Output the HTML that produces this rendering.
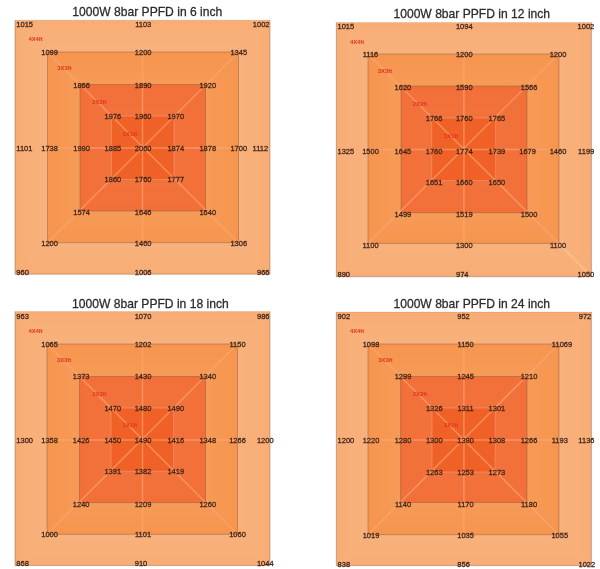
<!DOCTYPE html>
<html><head><meta charset="utf-8"><title>1000W 8bar PPFD</title>
<style>
html,body{margin:0;padding:0;background:#fff;}
svg{display:block;font-family:"Liberation Sans",Arial,sans-serif;}
.t{font-size:12.1px;fill:#2c2c30;stroke:#2c2c30;stroke-width:0.28px;text-anchor:middle;}
.n{font-size:7.5px;fill:#40251a;stroke:#40251a;stroke-width:0.27px;text-anchor:middle;}
.lb{filter:blur(0.3px);}
.s{text-anchor:start;}
.e{text-anchor:end;}
.r{font-size:5.9px;font-weight:bold;fill:#e2331f;text-anchor:middle;}
</style></head><body>
<svg width="600" height="569" viewBox="0 0 600 569">
<defs>
<linearGradient id="gT" x1="0" y1="0" x2="0" y2="1"><stop offset="0" stop-color="#fff" stop-opacity="0"/><stop offset="1" stop-color="#fff" stop-opacity="0.055"/></linearGradient>
<linearGradient id="gB" x1="0" y1="1" x2="0" y2="0"><stop offset="0" stop-color="#fff" stop-opacity="0"/><stop offset="1" stop-color="#fff" stop-opacity="0.055"/></linearGradient>
<linearGradient id="gL" x1="0" y1="0" x2="1" y2="0"><stop offset="0" stop-color="#fff" stop-opacity="0"/><stop offset="1" stop-color="#fff" stop-opacity="0.055"/></linearGradient>
<linearGradient id="gR" x1="1" y1="0" x2="0" y2="0"><stop offset="0" stop-color="#fff" stop-opacity="0"/><stop offset="1" stop-color="#fff" stop-opacity="0.055"/></linearGradient>
<linearGradient id="hT" x1="0" y1="0" x2="0" y2="1"><stop offset="0" stop-color="#fff" stop-opacity="0"/><stop offset="1" stop-color="#fff" stop-opacity="0.025"/></linearGradient>
<linearGradient id="hB" x1="0" y1="1" x2="0" y2="0"><stop offset="0" stop-color="#fff" stop-opacity="0"/><stop offset="1" stop-color="#fff" stop-opacity="0.025"/></linearGradient>
<linearGradient id="hL" x1="0" y1="0" x2="1" y2="0"><stop offset="0" stop-color="#fff" stop-opacity="0"/><stop offset="1" stop-color="#fff" stop-opacity="0.025"/></linearGradient>
<linearGradient id="hR" x1="1" y1="0" x2="0" y2="0"><stop offset="0" stop-color="#fff" stop-opacity="0"/><stop offset="1" stop-color="#fff" stop-opacity="0.025"/></linearGradient>
</defs>
<rect width="600" height="569" fill="#fff"/>
<g>
<text class="t" x="147.3" y="16.4">1000W 8bar PPFD in 6 inch</text>
<rect x="15" y="20.2" width="255" height="254" fill="#F8AD75"/>
<polygon fill="url(#gT)" points="15,20.2 270,20.2 238.5,52 47.5,52"/>
<polygon fill="url(#gB)" points="15,274.2 270,274.2 238.5,242.7 47.5,242.7"/>
<polygon fill="url(#gL)" points="15,20.2 15,274.2 47.5,242.7 47.5,52"/>
<polygon fill="url(#gR)" points="270,20.2 270,274.2 238.5,242.7 238.5,52"/>
<rect x="47.5" y="52" width="191" height="190.7" fill="#F6954E" stroke="rgba(125,88,68,0.42)" stroke-width="1"/>
<polygon fill="url(#gT)" points="47.5,52 238.5,52 205.5,84.5 80,84.5"/>
<polygon fill="url(#gB)" points="47.5,242.7 238.5,242.7 205.5,211 80,211"/>
<polygon fill="url(#gL)" points="47.5,52 47.5,242.7 80,211 80,84.5"/>
<polygon fill="url(#gR)" points="238.5,52 238.5,242.7 205.5,211 205.5,84.5"/>
<rect x="80" y="84.5" width="125.5" height="126.5" fill="#F26F38" stroke="rgba(125,88,68,0.42)" stroke-width="1"/>
<polygon fill="url(#hT)" points="80,84.5 205.5,84.5 174,116 111.5,116"/>
<polygon fill="url(#hB)" points="80,211 205.5,211 174,179.5 111.5,179.5"/>
<polygon fill="url(#hL)" points="80,84.5 80,211 111.5,179.5 111.5,116"/>
<polygon fill="url(#hR)" points="205.5,84.5 205.5,211 174,179.5 174,116"/>
<rect x="111.5" y="116" width="62.5" height="63.5" fill="#EF6126" stroke="rgba(250,170,135,0.42)" stroke-width="1.1"/>
<polyline fill="none" stroke="rgba(125,88,68,0.42)" stroke-width="1" points="15,20.2 15,274.2 270,274.2 270,20.2"/>
<line stroke="rgba(125,88,68,0.42)" stroke-opacity="0.35" stroke-width="1" x1="15" y1="20.2" x2="270" y2="20.2"/>
<g stroke="rgba(255,170,115,0.6)" stroke-width="1.5" fill="none">
<line x1="47.5" y1="52" x2="238.5" y2="242.7"/>
<line x1="238.5" y1="52" x2="47.5" y2="242.7"/>
<line x1="142.5" y1="52" x2="142.5" y2="242.7"/>
<line x1="47.5" y1="148" x2="238.5" y2="148"/>
</g>
<g class="lb">
<text class="r" x="35.6" y="41.35">4X4ft</text>
<text class="r" x="64.4" y="70.1">3X3ft</text>
<text class="r" x="99.4" y="104.1">2X2ft</text>
<text class="r" x="130" y="135.85">1X1ft</text>
<text class="n s" x="16.3" y="26.9">1015</text>
<text class="n" x="143.2" y="26.9">1103</text>
<text class="n e" x="269.5" y="26.9">1002</text>
<text class="n" x="49.6" y="55.3">1099</text>
<text class="n" x="143.2" y="55.3">1200</text>
<text class="n" x="238.8" y="55.3">1345</text>
<text class="n" x="81.6" y="87.7">1866</text>
<text class="n" x="143.2" y="87.7">1890</text>
<text class="n" x="207.8" y="87.7">1920</text>
<text class="n" x="112.9" y="119.1">1976</text>
<text class="n" x="143.2" y="119.1">1960</text>
<text class="n" x="175.8" y="119.1">1970</text>
<text class="n s" x="16.3" y="151.45">1101</text>
<text class="n" x="49.6" y="151.45">1738</text>
<text class="n" x="81.6" y="151.45">1990</text>
<text class="n" x="112.9" y="151.45">1885</text>
<text class="n" x="143.2" y="151.45">2060</text>
<text class="n" x="175.8" y="151.45">1874</text>
<text class="n" x="207.8" y="151.45">1878</text>
<text class="n" x="238.8" y="151.45">1700</text>
<text class="n e" x="268.2" y="151.45">1112</text>
<text class="n" x="112.9" y="182.3">1860</text>
<text class="n" x="143.2" y="182.3">1760</text>
<text class="n" x="175.8" y="182.3">1777</text>
<text class="n" x="81.6" y="215.2">1574</text>
<text class="n" x="143.2" y="215.2">1646</text>
<text class="n" x="207.8" y="215.2">1640</text>
<text class="n" x="49.6" y="245.8">1200</text>
<text class="n" x="143.2" y="245.8">1460</text>
<text class="n" x="238.8" y="245.8">1306</text>
<text class="n s" x="16.3" y="274.8">960</text>
<text class="n" x="143.2" y="274.8">1006</text>
<text class="n e" x="269.5" y="274.8">966</text>
</g>
</g>
<g>
<text class="t" x="471.8" y="17.5">1000W 8bar PPFD in 12 inch</text>
<rect x="336.3" y="22.5" width="255.1" height="254.2" fill="#F8AD75"/>
<polygon fill="url(#gT)" points="336.3,22.5 591.4,22.5 558.9,54 368,54"/>
<polygon fill="url(#gB)" points="336.3,276.7 591.4,276.7 558.9,243.4 368,243.4"/>
<polygon fill="url(#gL)" points="336.3,22.5 336.3,276.7 368,243.4 368,54"/>
<polygon fill="url(#gR)" points="591.4,22.5 591.4,276.7 558.9,243.4 558.9,54"/>
<rect x="368" y="54" width="190.9" height="189.4" fill="#F6954E" stroke="rgba(125,88,68,0.42)" stroke-width="1"/>
<polygon fill="url(#gT)" points="368,54 558.9,54 527,86 401,86"/>
<polygon fill="url(#gB)" points="368,243.4 558.9,243.4 527,212.7 401,212.7"/>
<polygon fill="url(#gL)" points="368,54 368,243.4 401,212.7 401,86"/>
<polygon fill="url(#gR)" points="558.9,54 558.9,243.4 527,212.7 527,86"/>
<rect x="401" y="86" width="126" height="126.7" fill="#F26F38" stroke="rgba(125,88,68,0.42)" stroke-width="1"/>
<polygon fill="url(#hT)" points="401,86 527,86 495.6,118 431.7,118"/>
<polygon fill="url(#hB)" points="401,212.7 527,212.7 495.6,180.5 431.7,180.5"/>
<polygon fill="url(#hL)" points="401,86 401,212.7 431.7,180.5 431.7,118"/>
<polygon fill="url(#hR)" points="527,86 527,212.7 495.6,180.5 495.6,118"/>
<rect x="431.7" y="118" width="63.9" height="62.5" fill="#EF6126" stroke="rgba(250,170,135,0.42)" stroke-width="1.1"/>
<polyline fill="none" stroke="rgba(125,88,68,0.42)" stroke-width="1" points="336.3,22.5 336.3,276.7 591.4,276.7 591.4,22.5"/>
<line stroke="rgba(125,88,68,0.42)" stroke-opacity="0.35" stroke-width="1" x1="336.3" y1="22.5" x2="591.4" y2="22.5"/>
<g stroke="rgba(255,170,115,0.6)" stroke-width="1.5" fill="none">
<line x1="368" y1="54" x2="558.9" y2="243.4"/>
<line x1="558.9" y1="54" x2="368" y2="243.4"/>
<line x1="463.9" y1="54" x2="463.9" y2="243.4"/>
<line x1="368" y1="149.5" x2="558.9" y2="149.5"/>
<line x1="558.9" y1="243.4" x2="591.4" y2="276.7" stroke="rgba(255,228,205,0.32)"/>
</g>
<g class="lb">
<text class="r" x="357.1" y="43.6">4X4ft</text>
<text class="r" x="385" y="72.85">3X3ft</text>
<text class="r" x="420" y="105.85">2X2ft</text>
<text class="r" x="451" y="138.35">1X1ft</text>
<text class="n s" x="337.5" y="29.45">1015</text>
<text class="n" x="464.3" y="29.45">1094</text>
<text class="n e" x="594.25" y="29.45">1002</text>
<text class="n" x="370.5" y="57.2">1116</text>
<text class="n" x="464.3" y="57.2">1200</text>
<text class="n" x="558" y="57.2">1200</text>
<text class="n" x="402.9" y="89.7">1620</text>
<text class="n" x="464.3" y="89.7">1590</text>
<text class="n" x="529.1" y="89.7">1566</text>
<text class="n" x="434.1" y="120.7">1766</text>
<text class="n" x="464.3" y="120.7">1760</text>
<text class="n" x="496.9" y="120.7">1765</text>
<text class="n s" x="337.5" y="153.7">1325</text>
<text class="n" x="370.5" y="153.7">1500</text>
<text class="n" x="402.9" y="153.7">1645</text>
<text class="n" x="434.1" y="153.7">1760</text>
<text class="n" x="464.3" y="153.7">1774</text>
<text class="n" x="496.9" y="153.7">1739</text>
<text class="n" x="527.6" y="153.7">1679</text>
<text class="n" x="558" y="153.7">1460</text>
<text class="n e" x="594.25" y="153.7">1199</text>
<text class="n" x="434.1" y="184.7">1651</text>
<text class="n" x="464.3" y="184.7">1660</text>
<text class="n" x="496.9" y="184.7">1650</text>
<text class="n" x="402.9" y="217.3">1499</text>
<text class="n" x="464.3" y="217.3">1519</text>
<text class="n" x="529.1" y="217.3">1500</text>
<text class="n" x="370.5" y="247.7">1100</text>
<text class="n" x="464.3" y="247.7">1300</text>
<text class="n" x="558" y="247.7">1100</text>
<text class="n s" x="337.5" y="276.5">890</text>
<text class="n" x="462.25" y="276.5">974</text>
<text class="n e" x="594.25" y="276.5">1050</text>
</g>
</g>
<g>
<text class="t" x="150.4" y="307.6">1000W 8bar PPFD in 18 inch</text>
<rect x="15" y="311.5" width="255" height="254" fill="#F8AD75"/>
<polygon fill="url(#gT)" points="15,311.5 270,311.5 237.5,344 47,344"/>
<polygon fill="url(#gB)" points="15,565.5 270,565.5 237.5,534.3 47,534.3"/>
<polygon fill="url(#gL)" points="15,311.5 15,565.5 47,534.3 47,344"/>
<polygon fill="url(#gR)" points="270,311.5 270,565.5 237.5,534.3 237.5,344"/>
<rect x="47" y="344" width="190.5" height="190.3" fill="#F6954E" stroke="rgba(125,88,68,0.42)" stroke-width="1"/>
<polygon fill="url(#gT)" points="47,344 237.5,344 205.5,376.5 79.5,376.5"/>
<polygon fill="url(#gB)" points="47,534.3 237.5,534.3 205.5,502.6 79.5,502.6"/>
<polygon fill="url(#gL)" points="47,344 47,534.3 79.5,502.6 79.5,376.5"/>
<polygon fill="url(#gR)" points="237.5,344 237.5,534.3 205.5,502.6 205.5,376.5"/>
<rect x="79.5" y="376.5" width="126" height="126.1" fill="#F26F38" stroke="rgba(125,88,68,0.42)" stroke-width="1"/>
<polygon fill="url(#hT)" points="79.5,376.5 205.5,376.5 173.5,408 111,408"/>
<polygon fill="url(#hB)" points="79.5,502.6 205.5,502.6 173.5,471.2 111,471.2"/>
<polygon fill="url(#hL)" points="79.5,376.5 79.5,502.6 111,471.2 111,408"/>
<polygon fill="url(#hR)" points="205.5,376.5 205.5,502.6 173.5,471.2 173.5,408"/>
<rect x="111" y="408" width="62.5" height="63.2" fill="#EF6126" stroke="rgba(250,170,135,0.42)" stroke-width="1.1"/>
<polyline fill="none" stroke="rgba(125,88,68,0.42)" stroke-width="1" points="15,311.5 15,565.5 270,565.5 270,311.5"/>
<line stroke="rgba(125,88,68,0.42)" stroke-opacity="0.35" stroke-width="1" x1="15" y1="311.5" x2="270" y2="311.5"/>
<g stroke="rgba(255,170,115,0.6)" stroke-width="1.5" fill="none">
<line x1="47" y1="344" x2="237.5" y2="534.3"/>
<line x1="237.5" y1="344" x2="47" y2="534.3"/>
<line x1="142.5" y1="344" x2="142.5" y2="534.3"/>
<line x1="47" y1="440" x2="237.5" y2="440"/>
</g>
<g class="lb">
<text class="r" x="35.6" y="333.1">4X4ft</text>
<text class="r" x="64.1" y="361.85">3X3ft</text>
<text class="r" x="99.4" y="395.6">2X2ft</text>
<text class="r" x="130" y="427.1">1X1ft</text>
<text class="n s" x="16.3" y="319.2">963</text>
<text class="n" x="143" y="319.2">1070</text>
<text class="n e" x="269.5" y="319.2">986</text>
<text class="n" x="49.6" y="347.1">1065</text>
<text class="n" x="143" y="347.1">1202</text>
<text class="n" x="237.5" y="347.1">1150</text>
<text class="n" x="81.2" y="379.2">1373</text>
<text class="n" x="143" y="379.2">1430</text>
<text class="n" x="207.75" y="379.2">1340</text>
<text class="n" x="112.8" y="410.7">1470</text>
<text class="n" x="143" y="410.7">1480</text>
<text class="n" x="175.8" y="410.7">1490</text>
<text class="n s" x="16.3" y="443">1300</text>
<text class="n" x="49.6" y="443">1358</text>
<text class="n" x="81.2" y="443">1426</text>
<text class="n" x="112.8" y="443">1450</text>
<text class="n" x="143" y="443">1490</text>
<text class="n" x="175.8" y="443">1416</text>
<text class="n" x="207.75" y="443">1348</text>
<text class="n" x="237.5" y="443">1266</text>
<text class="n e" x="273.6" y="443">1200</text>
<text class="n" x="112.8" y="474.4">1391</text>
<text class="n" x="143" y="474.4">1382</text>
<text class="n" x="175.8" y="474.4">1419</text>
<text class="n" x="81.2" y="507.1">1240</text>
<text class="n" x="143" y="507.1">1209</text>
<text class="n" x="207.75" y="507.1">1260</text>
<text class="n" x="49.6" y="537.2">1000</text>
<text class="n" x="143" y="537.2">1101</text>
<text class="n" x="237.5" y="537.2">1060</text>
<text class="n s" x="16.3" y="566.4">868</text>
<text class="n" x="141" y="566.4">910</text>
<text class="n e" x="273.6" y="566.4">1044</text>
</g>
</g>
<g>
<text class="t" x="471.8" y="307.6">1000W 8bar PPFD in 24 inch</text>
<rect x="336.3" y="312" width="255.1" height="253.6" fill="#F8AD75"/>
<polygon fill="url(#gT)" points="336.3,312 591.4,312 558.9,344 368,344"/>
<polygon fill="url(#gB)" points="336.3,565.6 591.4,565.6 558.9,534.7 368,534.7"/>
<polygon fill="url(#gL)" points="336.3,312 336.3,565.6 368,534.7 368,344"/>
<polygon fill="url(#gR)" points="591.4,312 591.4,565.6 558.9,534.7 558.9,344"/>
<rect x="368" y="344" width="190.9" height="190.7" fill="#F6954E" stroke="rgba(125,88,68,0.42)" stroke-width="1"/>
<polygon fill="url(#gT)" points="368,344 558.9,344 527,376.5 400.6,376.5"/>
<polygon fill="url(#gB)" points="368,534.7 558.9,534.7 527,502.5 400.6,502.5"/>
<polygon fill="url(#gL)" points="368,344 368,534.7 400.6,502.5 400.6,376.5"/>
<polygon fill="url(#gR)" points="558.9,344 558.9,534.7 527,502.5 527,376.5"/>
<rect x="400.6" y="376.5" width="126.4" height="126" fill="#F26F38" stroke="rgba(125,88,68,0.42)" stroke-width="1"/>
<polygon fill="url(#hT)" points="400.6,376.5 527,376.5 495.2,408 432,408"/>
<polygon fill="url(#hB)" points="400.6,502.5 527,502.5 495.2,472 432,472"/>
<polygon fill="url(#hL)" points="400.6,376.5 400.6,502.5 432,472 432,408"/>
<polygon fill="url(#hR)" points="527,376.5 527,502.5 495.2,472 495.2,408"/>
<rect x="432" y="408" width="63.2" height="64" fill="#EF6126" stroke="rgba(250,170,135,0.42)" stroke-width="1.1"/>
<polyline fill="none" stroke="rgba(125,88,68,0.42)" stroke-width="1" points="336.3,312 336.3,565.6 591.4,565.6 591.4,312"/>
<line stroke="rgba(125,88,68,0.42)" stroke-opacity="0.35" stroke-width="1" x1="336.3" y1="312" x2="591.4" y2="312"/>
<g stroke="rgba(255,170,115,0.6)" stroke-width="1.5" fill="none">
<line x1="368" y1="344" x2="558.9" y2="534.7"/>
<line x1="558.9" y1="344" x2="368" y2="534.7"/>
<line x1="463.9" y1="344" x2="463.9" y2="534.7"/>
<line x1="368" y1="440" x2="558.9" y2="440"/>
</g>
<g class="lb">
<text class="r" x="357.1" y="333.1">4X4ft</text>
<text class="r" x="385.4" y="361.85">3X3ft</text>
<text class="r" x="420" y="395.6">2X2ft</text>
<text class="r" x="451" y="427.1">1X1ft</text>
<text class="n s" x="337.6" y="319.2">902</text>
<text class="n" x="463.5" y="319.2">952</text>
<text class="n e" x="591.25" y="319.2">972</text>
<text class="n" x="371" y="347.1">1098</text>
<text class="n" x="465.6" y="347.1">1150</text>
<text class="n" x="562" y="347.1">11069</text>
<text class="n" x="403" y="379.2">1299</text>
<text class="n" x="465.6" y="379.2">1245</text>
<text class="n" x="529" y="379.2">1210</text>
<text class="n" x="434.3" y="410.7">1326</text>
<text class="n" x="465.6" y="410.7">1311</text>
<text class="n" x="496.9" y="410.7">1301</text>
<text class="n s" x="337.6" y="443">1200</text>
<text class="n" x="371" y="443">1220</text>
<text class="n" x="403" y="443">1280</text>
<text class="n" x="434.3" y="443">1300</text>
<text class="n" x="465.6" y="443">1390</text>
<text class="n" x="496.9" y="443">1308</text>
<text class="n" x="529" y="443">1266</text>
<text class="n" x="559.8" y="443">1193</text>
<text class="n e" x="594.5" y="443">1136</text>
<text class="n" x="434.3" y="474.5">1263</text>
<text class="n" x="465.6" y="474.5">1253</text>
<text class="n" x="496.9" y="474.5">1273</text>
<text class="n" x="403" y="507.1">1140</text>
<text class="n" x="465.6" y="507.1">1170</text>
<text class="n" x="529" y="507.1">1180</text>
<text class="n" x="371" y="537.7">1019</text>
<text class="n" x="465.6" y="537.7">1035</text>
<text class="n" x="559.8" y="537.7">1055</text>
<text class="n s" x="337.6" y="566.5">838</text>
<text class="n" x="463.6" y="566.5">856</text>
<text class="n e" x="595.2" y="566.5">1022</text>
</g>
</g>
</svg></body></html>
